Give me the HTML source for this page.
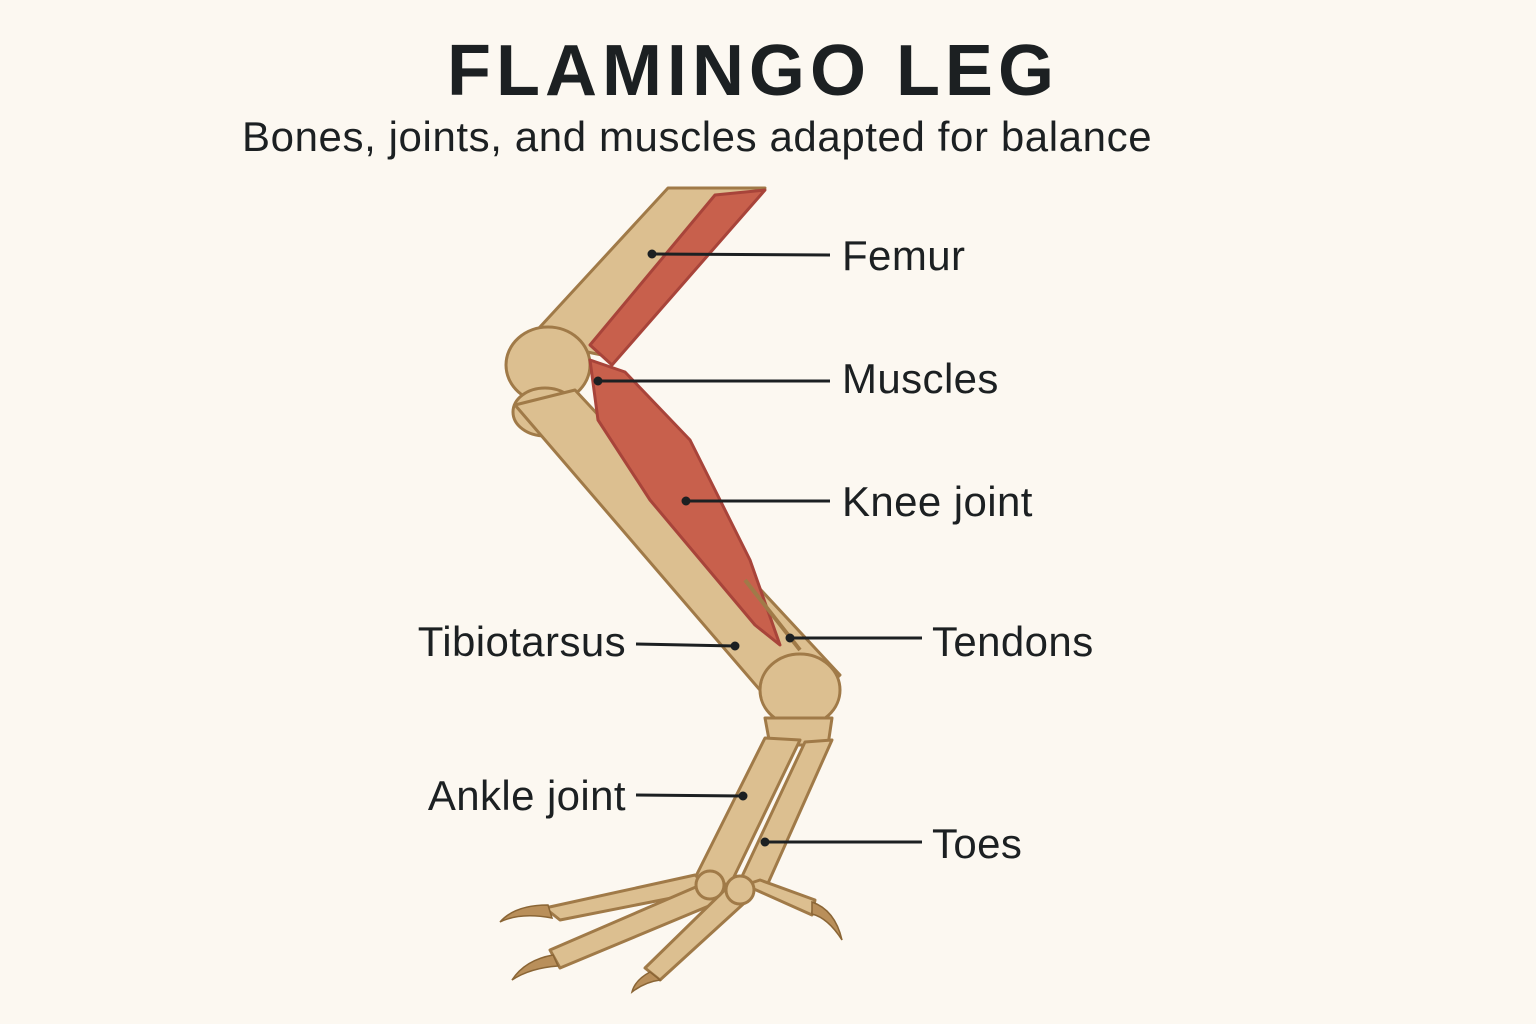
<!DOCTYPE html>
<html><head><meta charset="utf-8"><style>
html,body{margin:0;padding:0;}
body{width:1536px;height:1024px;background:#fcf8f1;position:relative;overflow:hidden;font-family:"Liberation Sans",sans-serif;color:#1c2022;}
.t{position:absolute;white-space:nowrap;font-size:42px;letter-spacing:0.4px;}
</style></head><body>
<svg width="1536" height="1024" style="position:absolute;left:0;top:0">
<g stroke="#a07a48" stroke-width="3" fill="#dcbf90" stroke-linejoin="round">
<polygon points="668,188 765,188 602,355 528,340"/>
<polygon points="715,195 765,190 612,365 590,345" fill="#c8604c" stroke="#a8443a"/>
<ellipse cx="548" cy="365" rx="42" ry="38"/>
<ellipse cx="545" cy="412" rx="32" ry="24"/>
<polygon points="515,405 575,390 840,675 790,725"/>
<polygon points="590,360 625,372 690,440 750,560 780,645 755,625 650,500 598,420" fill="#c8604c" stroke="#a8443a"/>
<line x1="745" y1="580" x2="800" y2="650" stroke="#a07a48" stroke-width="4"/>
<ellipse cx="800" cy="690" rx="40" ry="36"/>
<polygon points="765,718 832,718 828,745 770,745"/>
<polygon points="765,738 800,740 730,885 695,878"/>
<polygon points="805,742 832,740 765,890 738,885"/>
<polygon points="695,875 712,890 560,920 545,908"/>
<polygon points="712,880 728,898 560,968 550,950"/>
<polygon points="735,880 752,896 660,980 645,968"/>
<polygon points="745,885 760,880 815,900 812,915"/>
<circle cx="710" cy="885" r="14"/><circle cx="740" cy="890" r="14"/>
</g>
<g fill="#b98f5a" stroke="#8a6535" stroke-width="1.5">
<path d="M548,905 Q515,905 500,922 Q520,912 552,918Z"/>
<path d="M553,955 Q525,960 512,980 Q530,968 558,966Z"/>
<path d="M650,972 Q635,980 632,992 Q645,982 660,980Z"/>
<path d="M812,902 Q835,910 842,940 Q828,918 812,914Z"/>
</g>
<g stroke="#1c2022" stroke-width="3" fill="#1c2022">
<line x1="652" y1="254" x2="830" y2="255"/><circle cx="652" cy="254" r="3"/>
<line x1="598" y1="381" x2="830" y2="381"/><circle cx="598" cy="381" r="3"/>
<line x1="686" y1="501" x2="830" y2="501"/><circle cx="686" cy="501" r="3"/>
<line x1="790" y1="638" x2="922" y2="638"/><circle cx="790" cy="638" r="3"/>
<line x1="636" y1="644" x2="735" y2="646"/><circle cx="735" cy="646" r="3"/>
<line x1="636" y1="795" x2="743" y2="796"/><circle cx="743" cy="796" r="3"/>
<line x1="765" y1="842" x2="922" y2="842"/><circle cx="765" cy="842" r="3"/>
</g>
</svg>
<div class="t" style="left:447px;top:30px;font-size:72px;font-weight:bold;letter-spacing:5px;">FLAMINGO LEG</div>
<div class="t" style="left:242px;top:113px;font-size:42px;letter-spacing:0.6px;">Bones, joints, and muscles adapted for balance</div>
<div class="t" style="left:842px;top:232px;">Femur</div>
<div class="t" style="left:842px;top:355px;">Muscles</div>
<div class="t" style="left:842px;top:478px;">Knee joint</div>
<div class="t" style="left:932px;top:618px;">Tendons</div>
<div class="t" style="right:910px;top:618px;">Tibiotarsus</div>
<div class="t" style="right:910px;top:772px;">Ankle joint</div>
<div class="t" style="left:932px;top:820px;">Toes</div>
</body></html>
